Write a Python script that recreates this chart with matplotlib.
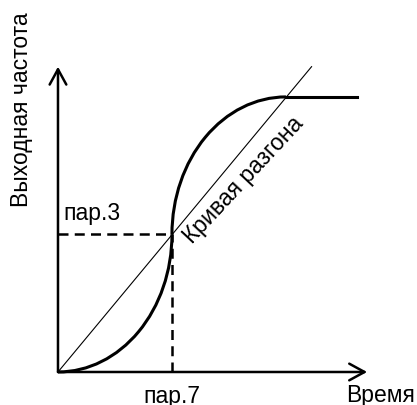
import matplotlib
matplotlib.use('Agg')
import matplotlib.pyplot as plt
from matplotlib.patches import Arc

plt.rcParams['font.family'] = ['Liberation Sans', 'DejaVu Sans']

# Key points of the acceleration curve (time, output frequency)
knee = [4, 5]            # par.7 on the time axis, par.3 on the frequency axis
plateau_start = [8, 10]  # where the curve levels off
plateau_end = [10.5, 10]
ramp_end = [8.9, 11.1]   # end of the straight reference line
axis_tips = [10.85, 11.1]
labels = {'x': 'Время', 'y': 'Выходная частота',
          'tick_x': 'пар.7', 'tick_y': 'пар.3', 'curve': 'Кривая разгона'}

fig = plt.figure(figsize=(4.17, 4.06), dpi=100)
ax = fig.add_axes([0, 0, 1, 1])
ax.set_xlim(-2.035, 12.6)
ax.set_ylim(-1.2, 13.56)
ax.axis('off')

arrow = dict(arrowstyle='->,head_length=0.55,head_width=0.3', lw=1.8,
             color='black', mutation_scale=20, shrinkA=0, shrinkB=0)
ax.annotate('', xy=(axis_tips[0], 0), xytext=(0, 0), arrowprops=arrow)
ax.annotate('', xy=(0, axis_tips[1]), xytext=(0, 0), arrowprops=arrow)

# straight reference ramp
ax.plot([0, ramp_end[0]], [0, ramp_end[1]], color='black', lw=0.8)

# dashed guides to the inflection point
ax.plot([0, knee[0]], [knee[1], knee[1]], color='black', lw=1.8,
        linestyle=(0, (4, 2.5)))
ax.plot([knee[0], knee[0]], [0, knee[1]], color='black', lw=1.8,
        linestyle=(0, (4, 2.5)))

# S-shaped curve: two quarter ellipses and a flat plateau
lw_curve = 2.2
ax.add_patch(Arc((0, knee[1]), 2 * knee[0], 2 * knee[1],
                 theta1=270, theta2=360, color='black', lw=lw_curve))
ax.add_patch(Arc((plateau_start[0], knee[1]),
                 2 * (plateau_start[0] - knee[0]),
                 2 * (plateau_start[1] - knee[1]),
                 theta1=90, theta2=180, color='black', lw=lw_curve))
ax.plot([plateau_start[0], plateau_end[0]], [plateau_start[1], plateau_end[1]],
        color='black', lw=lw_curve)

fs = 16.5
ax.text(10.12, -1.05, labels['x'], fontsize=fs, ha='left', va='baseline')
ax.text(knee[0], -1.09, labels['tick_x'], fontsize=fs, ha='center', va='baseline')
ax.text(0.18, 5.56, labels['tick_y'], fontsize=fs, ha='left', va='baseline')
ax.text(-1.05, 9.56, labels['y'], fontsize=fs, ha='center', va='baseline',
        rotation=90, rotation_mode='anchor')
ax.text(6.5, 7.0, labels['curve'], fontsize=fs, ha='center', va='center',
        rotation=47, rotation_mode='anchor')

fig.savefig('out.png', dpi=100)
